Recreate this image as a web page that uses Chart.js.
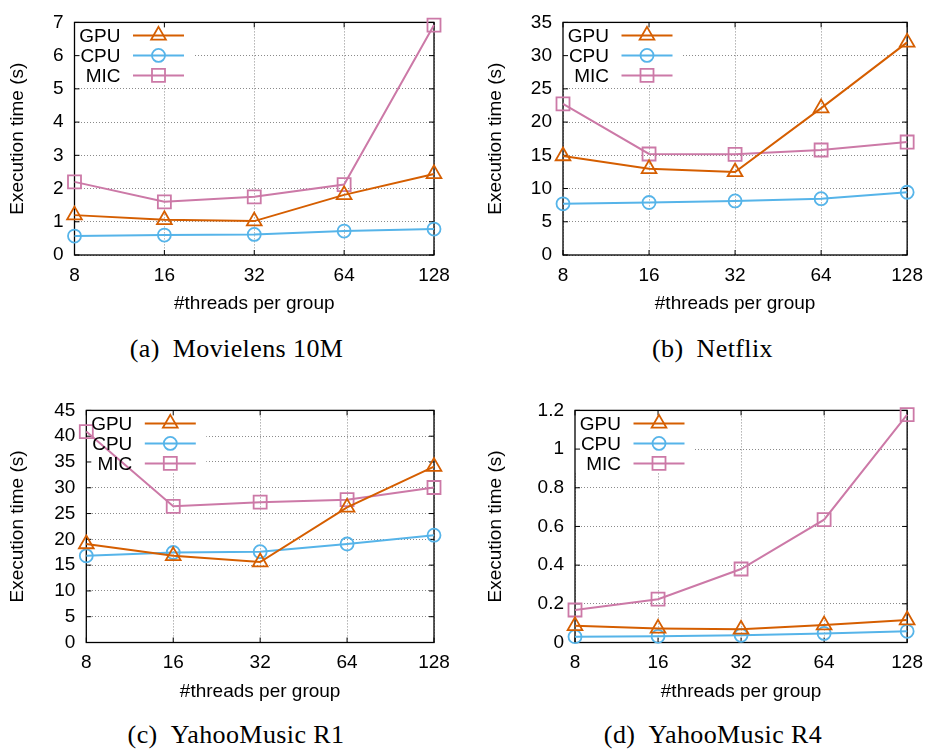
<!DOCTYPE html>
<html>
<head>
<meta charset="utf-8">
<script src="https://cdn.jsdelivr.net/npm/chart.js@4.4.1/dist/chart.umd.min.js"></script>
<style>
  html, body { margin: 0; padding: 0; background: #fff; }
  #wrap { position: relative; width: 932px; height: 754px; background: #fff; overflow: hidden; }
  .panel { position: absolute; width: 466px; height: 330px; }
  .cap { position: absolute; font-family: "Liberation Serif", "DejaVu Serif", serif; font-size: 26px;
         letter-spacing: 0.4px; color: #000; white-space: nowrap; transform: translate(-50%, -50%); }
  .cap .gap { display: inline-block; width: 13px; }
</style>
</head>
<body>
<div id="wrap"></div>
<script>
// ---------- data ----------
const threads = ['8', '16', '32', '64', '128'];
const seriesNames = ['GPU', 'CPU', 'MIC'];

const gpuA = [1.20, 1.06, 1.02, 1.81, 2.44];
const cpuA = [0.57, 0.60, 0.62, 0.72, 0.78];
const micA = [2.20, 1.60, 1.75, 2.12, 6.92];

const gpuB = [14.9, 12.97, 12.5, 22.1, 32.0];
const cpuB = [7.7, 7.9, 8.13, 8.47, 9.44];
const micB = [22.75, 15.2, 15.15, 15.8, 17.0];

const gpuC = [19.1, 16.8, 15.6, 26.2, 34.1];
const cpuC = [16.8, 17.45, 17.6, 19.1, 20.8];
const micC = [40.9, 26.4, 27.2, 27.7, 30.05];

const gpuD = [0.086, 0.073, 0.068, 0.090, 0.116];
const cpuD = [0.030, 0.032, 0.037, 0.047, 0.058];
const micD = [0.168, 0.224, 0.380, 0.635, 1.178];

const yTicksA = [0, 1, 2, 3, 4, 5, 6, 7];
const yTicksB = [0, 5, 10, 15, 20, 25, 30, 35];
const yTicksC = [0, 5, 10, 15, 20, 25, 30, 35, 40, 45];
const yTicksD = [0, 0.2, 0.4, 0.6, 0.8, 1, 1.2];

const captionTags = ['(a)', '(b)', '(c)', '(d)'];
const captionNames = ['Movielens 10M', 'Netflix', 'YahooMusic R1', 'YahooMusic R4'];
const xTitle = '#threads per group';
const yTitle = 'Execution time (s)';

// ---------- styles / layout ----------
const colors = ['#D55E00', '#56B4E9', '#CC79A7'];
const shapes = ['triangle', 'circle', 'rect'];
const radii = [8.5, 6.5, 9.2];
const FONT = '"Liberation Sans", Arial, Helvetica, sans-serif';
const CW = 466, CH = 330;

const panels = [
  { left: 0,   top: 0,   L: 74.5, R: 434, T: 14, B: 255,   titlePad: 8.5,  series: [gpuA, cpuA, micA], ticks: yTicksA, cap: [236.5, 348.5] },
  { left: 466, top: 0,   L: 97,   R: 445, T: 14, B: 255,   titlePad: 20.5, series: [gpuB, cpuB, micB], ticks: yTicksB, cap: [712.5, 348.5] },
  { left: 0,   top: 388, L: 86.3, R: 434, T: 14, B: 254.5, titlePad: 8.5,  series: [gpuC, cpuC, micC], ticks: yTicksC, cap: [236, 735] },
  { left: 466, top: 388, L: 109,  R: 445, T: 14, B: 254.5, titlePad: 20.5, series: [gpuD, cpuD, micD], ticks: yTicksD, cap: [713, 735] }
];

const framePlugin = {
  id: 'frame',
  beforeDatasetsDraw(chart) {
    const { ctx, chartArea: a, scales } = chart;
    ctx.save();
    // opaque key box
    ctx.fillStyle = '#fff';
    ctx.fillRect(a.left, a.top, 120, 62);
    // frame
    ctx.strokeStyle = '#000';
    ctx.lineWidth = 1.3;
    ctx.strokeRect(a.left, a.top, a.right - a.left, a.bottom - a.top);
    // inward ticks
    ctx.lineWidth = 1;
    const tl = 5;
    scales.y.ticks.forEach(t => {
      const y = scales.y.getPixelForValue(t.value);
      ctx.beginPath();
      ctx.moveTo(a.left, y); ctx.lineTo(a.left + tl, y);
      ctx.moveTo(a.right, y); ctx.lineTo(a.right - tl, y);
      ctx.stroke();
    });
    scales.x.ticks.forEach((t, i) => {
      const x = scales.x.getPixelForTick(i);
      ctx.beginPath();
      ctx.moveTo(x, a.bottom); ctx.lineTo(x, a.bottom - tl);
      ctx.moveTo(x, a.top); ctx.lineTo(x, a.top + tl);
      ctx.stroke();
    });
    ctx.restore();
  },
  afterDatasetsDraw(chart) {
    const { ctx, chartArea: a } = chart;
    ctx.save();
    ctx.font = '19px ' + FONT;
    ctx.textAlign = 'right';
    ctx.textBaseline = 'middle';
    chart.data.datasets.forEach((ds, i) => {
      const y = a.top + 13 + i * 20;
      ctx.fillStyle = '#000';
      ctx.fillText(ds.label, a.left + 46, y + 1);
      ctx.strokeStyle = ds.borderColor;
      ctx.lineWidth = 2;
      ctx.beginPath();
      ctx.moveTo(a.left + 58.5, y); ctx.lineTo(a.left + 109.5, y);
      ctx.stroke();
      ctx.fillStyle = 'rgba(255,255,255,0)';
      ctx.lineWidth = 1.8;
      Chart.helpers.drawPoint(ctx, { pointStyle: ds.pointStyle, radius: ds.pointRadius, rotation: 0, borderWidth: 1.8 }, a.left + 84, y);
    });
    ctx.restore();
  }
};

const wrap = document.getElementById('wrap');
panels.forEach((p, k) => {
  const div = document.createElement('div');
  div.className = 'panel';
  div.style.left = p.left + 'px';
  div.style.top = p.top + 'px';
  const cv = document.createElement('canvas');
  cv.width = CW; cv.height = CH;
  cv.style.width = CW + 'px'; cv.style.height = CH + 'px';
  div.appendChild(cv);
  wrap.appendChild(div);

  const cap = document.createElement('div');
  cap.className = 'cap';
  cap.style.left = p.cap[0] + 'px';
  cap.style.top = p.cap[1] + 'px';
  const t1 = document.createElement('span'); t1.textContent = captionTags[k];
  const g = document.createElement('span'); g.className = 'gap';
  const t2 = document.createElement('span'); t2.textContent = captionNames[k];
  cap.appendChild(t1); cap.appendChild(g); cap.appendChild(t2);
  wrap.appendChild(cap);

  new Chart(cv, {
    type: 'line',
    data: {
      labels: threads,
      datasets: p.series.map((vals, i) => ({
        label: seriesNames[i],
        data: vals,
        borderColor: colors[i],
        backgroundColor: 'rgba(255,255,255,0)',
        borderWidth: 2,
        pointStyle: shapes[i],
        pointRadius: radii[i],
        pointBorderWidth: 1.8,
        pointBackgroundColor: 'rgba(255,255,255,0)',
        pointBorderColor: colors[i],
        tension: 0,
        fill: false,
        clip: false
      }))
    },
    options: {
      responsive: false,
      animation: false,
      devicePixelRatio: 1,
      layout: { padding: { left: 0, top: p.T, right: CW - p.R, bottom: 0 } },
      plugins: { legend: { display: false }, tooltip: { enabled: false } },
      scales: {
        x: {
          type: 'category',
          offset: false,
          grid: { display: true, color: '#8a8a8a', lineWidth: 1, drawTicks: false },
          border: { display: false, dash: [1, 2] },
          ticks: { color: '#000', font: { family: FONT, size: 19, lineHeight: 1.2 }, padding: 9, maxRotation: 0, autoSkip: false },
          title: { display: true, text: xTitle, color: '#000', font: { family: FONT, size: 19, lineHeight: 1 }, padding: { top: 0, bottom: 16.5 } },
          afterFit: s => { s.height = CH - p.B; }
        },
        y: {
          type: 'linear',
          min: p.ticks[0],
          max: p.ticks[p.ticks.length - 1],
          grid: { display: true, color: '#8a8a8a', lineWidth: 1, drawTicks: false },
          border: { display: false, dash: [1, 2] },
          afterBuildTicks: s => { s.ticks = p.ticks.map(v => ({ value: v })); },
          ticks: { color: '#000', font: { family: FONT, size: 19, lineHeight: 1.2 }, padding: 11, autoSkip: false,
                   callback: v => String(Math.round(v * 10) / 10) },
          title: { display: true, text: yTitle, color: '#000', font: { family: FONT, size: 19, lineHeight: 1 }, padding: { top: p.titlePad, bottom: 0 } },
          afterFit: s => { s.width = p.L; }
        }
      }
    },
    plugins: [framePlugin]
  });
});
</script>
</body>
</html>
